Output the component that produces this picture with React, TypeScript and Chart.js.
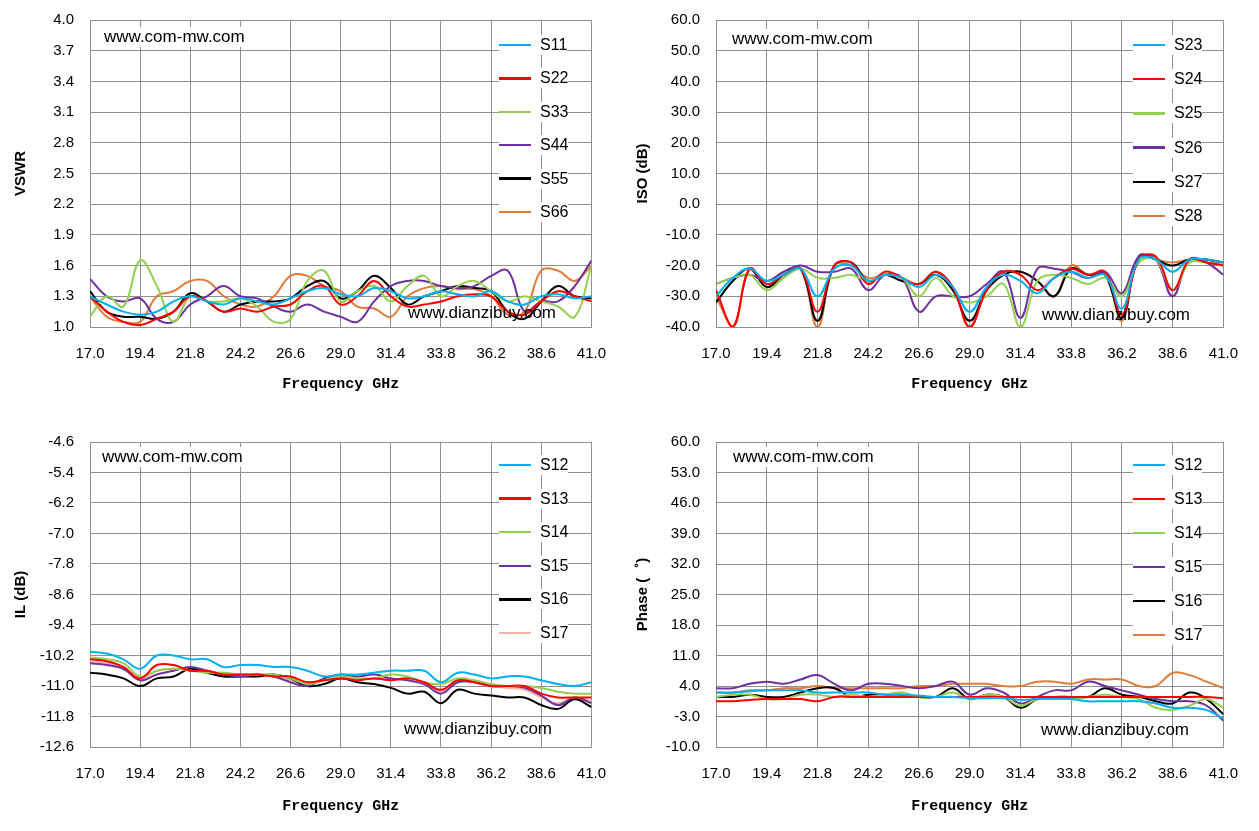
import React, { useEffect, useRef } from "react";
import { Chart, registerables } from "chart.js";
Chart.register(...registerables);

const freqs = Array.from({ length: 31 }, (_, i) => +(17 + 0.8 * i).toFixed(1));

const vswrNames = ["S11", "S22", "S33", "S44", "S55", "S66"];
const S11 = [1.30,1.22,1.15,1.12,1.15,1.25,1.30,1.25,1.22,1.28,1.25,1.22,1.28,1.35,1.38,1.32,1.30,1.38,1.35,1.28,1.30,1.35,1.32,1.30,1.35,1.25,1.22,1.30,1.32,1.28,1.30];
const S22 = [1.30,1.15,1.05,1.02,1.08,1.15,1.30,1.25,1.15,1.18,1.15,1.20,1.22,1.35,1.40,1.22,1.30,1.45,1.30,1.20,1.22,1.25,1.30,1.32,1.30,1.15,1.12,1.25,1.35,1.30,1.25];
const S33 = [1.10,1.30,1.20,1.65,1.40,1.05,1.30,1.25,1.25,1.28,1.20,1.05,1.08,1.45,1.55,1.25,1.35,1.40,1.25,1.40,1.50,1.30,1.40,1.45,1.35,1.25,1.30,1.25,1.20,1.10,1.60];
const S44 = [1.47,1.30,1.25,1.28,1.08,1.05,1.22,1.30,1.40,1.30,1.28,1.20,1.15,1.22,1.15,1.10,1.05,1.25,1.40,1.45,1.45,1.40,1.38,1.40,1.50,1.55,1.15,1.25,1.25,1.40,1.65];
const S55 = [1.35,1.15,1.10,1.10,1.08,1.15,1.33,1.25,1.15,1.22,1.25,1.25,1.28,1.40,1.45,1.28,1.35,1.50,1.38,1.22,1.30,1.35,1.40,1.38,1.35,1.15,1.08,1.25,1.40,1.30,1.28];
const S66 = [1.30,1.10,1.05,1.05,1.30,1.35,1.45,1.45,1.30,1.22,1.20,1.30,1.50,1.50,1.40,1.35,1.20,1.18,1.10,1.30,1.38,1.40,1.37,1.37,1.30,1.12,1.15,1.55,1.55,1.45,1.60];

const isoNames = ["S23", "S24", "S25", "S26", "S27", "S28"];
const S23 = [-30,-24,-21,-25,-23,-21,-30,-21,-20,-25,-23,-24,-27,-23,-27,-35,-27,-23,-25,-29,-24,-22,-24,-23,-34,-18,-18,-22,-18,-18,-19];
const S24 = [-28,-40,-21,-26,-23,-21,-35,-20,-19,-26,-22,-24,-26,-22,-27,-40,-28,-22,-23,-28,-24,-21,-23,-22,-36,-18,-17,-28,-18,-19,-20];
const S25 = [-26,-24,-23,-28,-24,-21,-24,-24,-23,-25,-23,-24,-30,-24,-30,-32,-30,-26,-40,-25,-23,-24,-26,-24,-30,-19,-18,-28,-19,-19,-20];
const S26 = [-26,-24,-23,-25,-22,-20,-22,-22,-21,-28,-23,-24,-35,-30,-30,-30,-26,-22,-37,-21,-21,-22,-24,-22,-29,-17,-18,-30,-18,-19,-23];
const S27 = [-32,-25,-21,-27,-23,-21,-38,-20,-19,-25,-23,-25,-26,-23,-28,-38,-28,-23,-22,-25,-30,-21,-23,-23,-37,-17,-18,-20,-18,-18,-19];
const S28 = [-30,-40,-21,-27,-23,-21,-40,-20,-20,-24,-23,-25,-26,-22,-27,-40,-28,-23,-22,-25,-30,-20,-23,-23,-38,-17,-18,-19,-18,-18,-20];

const ilNames = ["S12", "S13", "S14", "S15", "S16", "S17"];
const IL12 = [-10.1,-10.15,-10.3,-10.55,-10.2,-10.2,-10.3,-10.3,-10.5,-10.45,-10.45,-10.5,-10.5,-10.6,-10.75,-10.7,-10.7,-10.65,-10.6,-10.6,-10.6,-10.9,-10.65,-10.7,-10.8,-10.75,-10.75,-10.85,-10.95,-11.0,-10.9];
const IL13 = [-10.3,-10.35,-10.5,-10.8,-10.45,-10.45,-10.6,-10.6,-10.7,-10.7,-10.7,-10.75,-10.75,-10.9,-10.85,-10.8,-10.85,-10.8,-10.85,-10.8,-10.9,-11.1,-10.85,-10.9,-11.0,-11.0,-11.0,-11.2,-11.3,-11.3,-11.3];
const IL14 = [-10.25,-10.3,-10.4,-10.75,-10.6,-10.55,-10.6,-10.65,-10.65,-10.7,-10.7,-10.7,-10.8,-10.95,-10.85,-10.75,-10.8,-10.8,-10.7,-10.75,-10.9,-10.95,-10.8,-10.85,-10.95,-11.0,-11.0,-11.05,-11.15,-11.2,-11.2];
const IL15 = [-10.4,-10.45,-10.55,-10.85,-10.7,-10.6,-10.5,-10.6,-10.7,-10.75,-10.7,-10.75,-10.9,-11.0,-10.8,-10.7,-10.75,-10.7,-10.8,-10.85,-10.95,-11.2,-10.9,-10.9,-11.0,-11.0,-11.05,-11.25,-11.5,-11.3,-11.45];
const IL16 = [-10.65,-10.7,-10.8,-11.0,-10.8,-10.75,-10.55,-10.65,-10.75,-10.75,-10.75,-10.7,-10.8,-11.0,-10.95,-10.8,-10.9,-10.95,-11.05,-11.2,-11.15,-11.45,-11.1,-11.2,-11.25,-11.3,-11.3,-11.5,-11.6,-11.35,-11.55];
const IL17 = [-10.35,-10.4,-10.55,-10.85,-10.6,-10.55,-10.55,-10.6,-10.7,-10.7,-10.7,-10.75,-10.85,-10.95,-10.85,-10.75,-10.8,-10.8,-10.8,-10.85,-10.95,-11.15,-10.9,-10.9,-11.0,-11.05,-11.1,-11.3,-11.45,-11.3,-11.4];

const PH12 = [2.5,2.5,2.8,3,3,3,2.5,2.5,2.5,2.5,2,2,1.8,1.5,1.5,1.2,1.2,1.2,0.8,1,1,1,0.5,0.5,0.5,0.5,0,-1,-1,-1.5,-3.5];
const PH13 = [0.5,0.5,0.8,1,1,1,0.5,1.5,1.5,1.5,1.5,1.5,1.5,1.5,1.5,1.5,1.5,1.5,1.5,1.5,1.5,1.5,1.5,1.5,1.5,1.5,1.5,1.5,1.5,1.5,1.2];
const PH14 = [1.5,2,2,1,1,2,2,1.5,2,1.5,2,2.5,1.5,1.5,2.5,1,2,1.5,-0.5,1,1.5,1,1.5,2,1.5,1,-1,-1.5,-0.5,1,-1];
const PH15 = [3.5,3.5,4.5,5,4.5,5.5,6.5,4.5,3,4.5,4.5,4,3.5,4,5,2,3.5,2.5,0,1.5,3,3,5,4,3,2,1,0.5,0.5,-0.5,-4];
const PH16 = [1.5,1.5,2,1.5,1.5,2.5,3.5,3.5,1.5,2,2,2,1.5,1.5,3.5,1,2,1.5,-1,1,1.5,1.5,1.5,3.5,2,1.5,0.5,0,2.5,1,-2.5];
const PH17 = [2.5,2.5,3,3,3.5,3.5,4,3.5,3.5,3.5,3.5,3.5,4,4,4.5,4.5,4.5,4,4,5,5,4.5,5.5,5.5,5.5,4,4,7,6.5,5,3.5];

const COLORS = ["#00B0F0", "#FF0000", "#92D050", "#7030A0", "#000000", "#E07B39"];
const IL_COLORS = ["#00B0F0", "#FF0000", "#92D050", "#7030A0", "#000000", "#F4B6A6"];

type Panel = {
  left: number; top: number; w: number; h: number;
  yW: number; xH: number; padTop: number; padRight: number;
  min: number; max: number; step: number; yTitle: string;
  names: string[]; series: number[][]; colors: string[];
  legendX: number; legendY: number; legendGap: number;
  wm1: [number, number]; wm2: [number, number];
};

const panels: Panel[] = [
  { left: 0, top: -13, w: 616, h: 402, yW: 82, xH: 70, padTop: 0, padRight: 21, min: 1.0, max: 4.0, step: 0.3, yTitle: "VSWR",
    names: vswrNames, series: [S11, S22, S33, S44, S55, S66], colors: COLORS, legendX: 491, legendY: 37, legendGap: 33.4, wm1: [96, 29], wm2: [400, 305] },
  { left: 622, top: -13, w: 626, h: 402, yW: 86, xH: 70, padTop: 0, padRight: 22, min: -40, max: 60, step: 10, yTitle: "ISO (dB)",
    names: isoNames, series: [S23, S24, S25, S26, S27, S28], colors: COLORS, legendX: 1125, legendY: 37, legendGap: 34.2, wm1: [724, 31], wm2: [1034, 307] },
  { left: 0, top: 409, w: 616, h: 402, yW: 82, xH: 72, padTop: 0, padRight: 21, min: -12.6, max: -4.6, step: 0.8, yTitle: "IL (dB)",
    names: ilNames, series: [IL12, IL13, IL14, IL15, IL16, IL17], colors: IL_COLORS, legendX: 491, legendY: 457, legendGap: 33.6, wm1: [94, 449], wm2: [396, 721] },
  { left: 622, top: 409, w: 626, h: 402, yW: 86, xH: 72, padTop: 0, padRight: 22, min: -10, max: 60, step: 7, yTitle: "Phase (゜)",
    names: ilNames, series: [PH12, PH13, PH14, PH15, PH16, PH17], colors: COLORS, legendX: 1125, legendY: 457, legendGap: 34, wm1: [725, 449], wm2: [1033, 722] },
];

const FONT = "'Liberation Sans', Arial, sans-serif";

function PanelChart({ p }: { p: Panel }) {
  const ref = useRef<HTMLCanvasElement>(null);
  useEffect(() => {
    const chart = new Chart(ref.current!, {
      type: "line",
      data: {
        datasets: p.series.map((s, i) => ({
          label: p.names[i],
          data: s.map((v, j) => ({ x: freqs[j], y: v })),
          borderColor: p.colors[i],
          borderWidth: 2,
          pointRadius: 0,
          tension: 0.4,
          fill: false,
        })),
      },
      options: {
        animation: false,
        responsive: false,
        layout: { padding: { top: p.padTop, right: p.padRight, left: 0, bottom: 0 } },
        plugins: { legend: { display: false }, tooltip: { enabled: false } },
        scales: {
          x: {
            type: "linear", min: 17, max: 41,
            afterBuildTicks: (s: any) => { s.ticks = Array.from({ length: 11 }, (_, i) => ({ value: 17 + 2.4 * i })); },
            afterFit: (s: any) => { s.height = p.xH; },
            ticks: { color: "#000", font: { family: FONT, size: 15 }, maxRotation: 0, padding: 18, callback: (v: any) => Number(v).toFixed(1) },
            grid: { color: "#909090", lineWidth: 1, drawTicks: false },
            border: { color: "#909090" },
            title: { display: true, text: "Frequency GHz", color: "#000", font: { family: "'Liberation Mono', monospace", size: 15, weight: "bold" }, padding: { top: 4 } },
          },
          y: {
            min: p.min, max: p.max,
            afterBuildTicks: (s: any) => { const n = Math.round((p.max - p.min) / p.step); s.ticks = Array.from({ length: n + 1 }, (_, i) => ({ value: p.min + p.step * i })); },
            afterFit: (s: any) => { s.width = p.yW; },
            ticks: { color: "#000", font: { family: FONT, size: 15 }, padding: 16, callback: (v: any) => Number(v).toFixed(1) },
            grid: { color: "#909090", lineWidth: 1, drawTicks: false },
            border: { color: "#909090" },
            title: { display: true, text: p.yTitle, color: "#000", font: { family: FONT, size: 15, weight: "bold" }, padding: { bottom: 4 } },
          },
        },
      } as any,
    });
    return () => chart.destroy();
  }, []);
  return (
    <>
      <canvas ref={ref} width={p.w} height={p.h} style={{ position: "absolute", left: p.left, top: p.top, width: p.w, height: p.h }} />
      {p.names.map((n, i) => (
        <div key={n} style={{ position: "absolute", left: p.legendX, top: p.legendY + i * p.legendGap - 10, height: 20, display: "flex", alignItems: "center", fontFamily: FONT, fontSize: 16, color: "#000", background: "#fff" }}>
          <span style={{ display: "inline-block", width: 32, height: 2.5, background: p.colors[i], marginRight: 9 }} />
          {n}
        </div>
      ))}
      <div style={{ position: "absolute", left: p.wm1[0], top: p.wm1[1] - 10, fontFamily: FONT, fontSize: 17, color: "#000", background: "#fff", lineHeight: "20px" }}>www.com-mw.com</div>
      <div style={{ position: "absolute", left: p.wm2[0], top: p.wm2[1] - 10, fontFamily: FONT, fontSize: 17, color: "#000", lineHeight: "20px" }}>www.dianzibuy.com</div>
    </>
  );
}

export default function App() {
  return (
    <div style={{ position: "relative", width: 1243, height: 822, background: "#fff" }}>
      {panels.map((p, i) => <PanelChart key={i} p={p} />)}
    </div>
  );
}
